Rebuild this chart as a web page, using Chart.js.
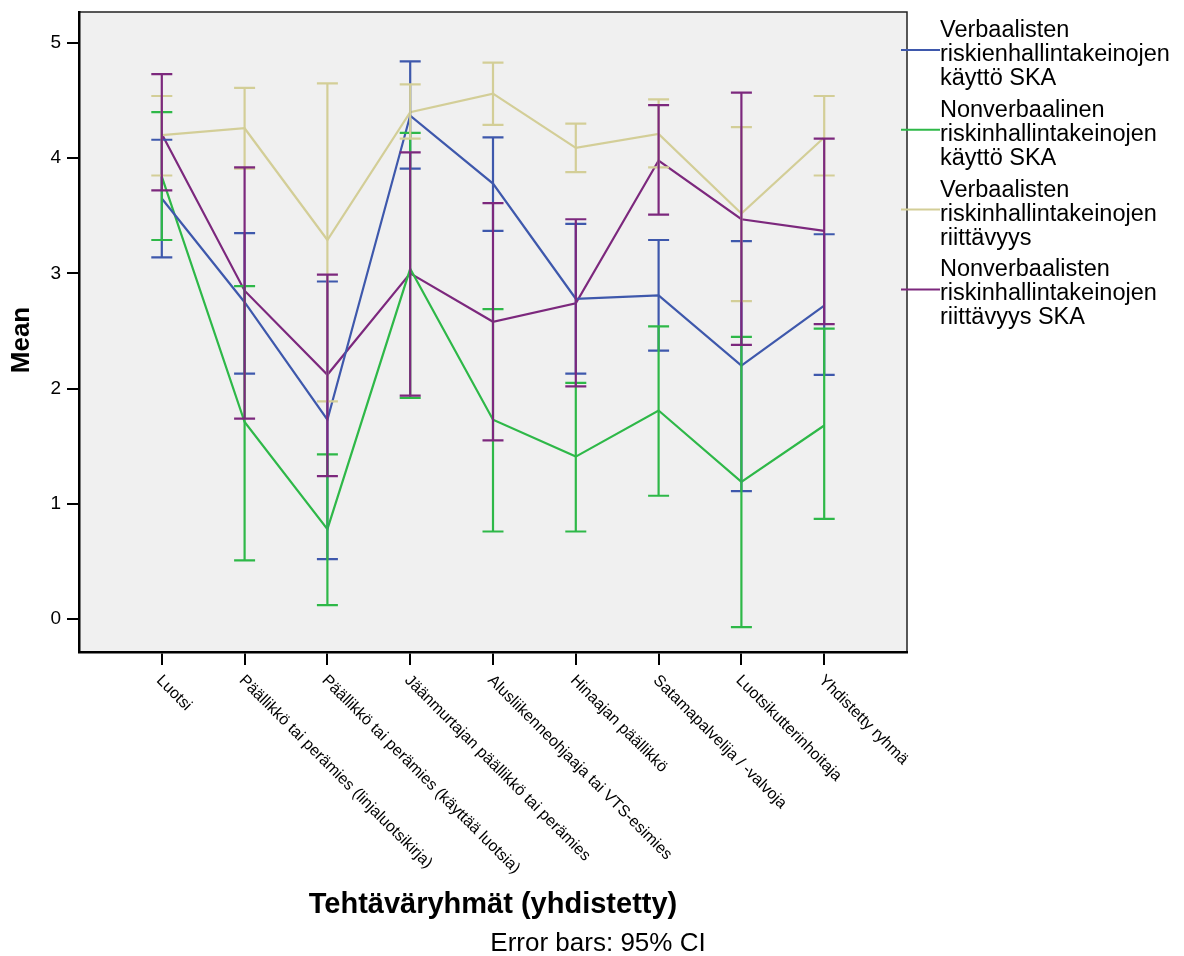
<!DOCTYPE html>
<html>
<head>
<meta charset="utf-8">
<script src="https://cdn.jsdelivr.net/npm/chart.js@4"></script>
<style>
  body { margin: 0; background: #fff; }
</style>
</head>
<body>
<canvas id="myChart" width="1184" height="956"></canvas>
<script>
// categories on the x axis
const categories = [
  'Luotsi',
  'Päällikkö tai perämies (linjaluotsikirja)',
  'Päällikkö tai perämies (käyttää luotsia)',
  'Jäänmurtajan päällikkö tai perämies',
  'Alusliikenneohjaaja tai VTS-esimies',
  'Hinaajan päällikkö',
  'Satamapalvelija / -valvoja',
  'Luotsikutterinhoitaja',
  'Yhdistetty ryhmä'
];
const yTicks = [0, 1, 2, 3, 4, 5];

// means and 95% CI per series
const verbKayttoMean  = [3.65, 2.75, 1.73, 4.37, 3.78, 2.78, 2.81, 2.20, 2.72];
const verbKayttoLow   = [3.14, 2.13, 0.52, 3.91, 3.37, 2.13, 2.33, 1.11, 2.12];
const verbKayttoHigh  = [4.16, 3.35, 2.93, 4.84, 4.18, 3.43, 3.29, 3.28, 3.34];

const nonvKayttoMean  = [3.84, 1.71, 0.78, 3.04, 1.73, 1.41, 1.81, 1.19, 1.68];
const nonvKayttoLow   = [3.29, 0.51, 0.12, 1.92, 0.76, 0.76, 1.07, -0.07, 0.87];
const nonvKayttoHigh  = [4.40, 2.89, 1.43, 4.22, 2.69, 2.05, 2.54, 2.45, 2.52];

const verbRiittMean   = [4.20, 4.26, 3.29, 4.40, 4.56, 4.09, 4.21, 3.52, 4.18];
const verbRiittLow    = [3.85, 3.91, 1.89, 4.17, 4.29, 3.88, 3.92, 2.76, 3.85];
const verbRiittHigh   = [4.54, 4.61, 4.65, 4.64, 4.83, 4.30, 4.51, 4.27, 4.54];

const nonvRiittMean   = [4.21, 2.85, 2.12, 3.00, 2.58, 2.74, 3.98, 3.47, 3.37];
const nonvRiittLow    = [3.72, 1.74, 1.24, 1.94, 1.55, 2.02, 3.51, 2.38, 2.56];
const nonvRiittHigh   = [4.73, 3.92, 2.99, 4.05, 3.61, 3.47, 4.46, 4.57, 4.17];

const seriesLabels = [
  ['Verbaalisten', 'riskienhallintakeinojen', 'käyttö SKA'],
  ['Nonverbaalinen', 'riskinhallintakeinojen', 'käyttö SKA'],
  ['Verbaalisten', 'riskinhallintakeinojen', 'riittävyys'],
  ['Nonverbaalisten', 'riskinhallintakeinojen', 'riittävyys SKA']
];
const colors = ['#3e58ac', '#2eb848', '#d3ce97', '#7c287d'];

const means = [verbKayttoMean, nonvKayttoMean, verbRiittMean, nonvRiittMean];
const lows = [verbKayttoLow, nonvKayttoLow, verbRiittLow, nonvRiittLow];
const highs = [verbKayttoHigh, nonvKayttoHigh, verbRiittHigh, nonvRiittHigh];

const FONT = '"Liberation Sans", Arial, sans-serif';

const datasets = means.map((m, s) => ({
  label: seriesLabels[s].join(' '),
  data: m.map((v, i) => ({ x: i + 1, y: v })),
  borderColor: colors[s],
  backgroundColor: colors[s],
  borderWidth: 2.2,
  pointRadius: 0,
  tension: 0
}));

// background + frame of plot area
const plotBg = {
  id: 'plotBg',
  beforeDraw(chart) {
    const { ctx, chartArea: a } = chart;
    ctx.save();
    ctx.fillStyle = '#f0f0f0';
    ctx.fillRect(a.left, a.top, a.right - a.left, a.bottom - a.top);
    ctx.strokeStyle = '#222';
    ctx.lineWidth = 1.5;
    ctx.strokeRect(a.left, a.top, a.right - a.left, a.bottom - a.top);
    ctx.restore();
  }
};

// error bars
const errorBars = {
  id: 'errorBars',
  afterDatasetsDraw(chart) {
    const { ctx } = chart;
    const xs = chart.scales.x, ys = chart.scales.y;
    ctx.save();
    ctx.lineWidth = 2.2;
    means.forEach((m, s) => {
      ctx.strokeStyle = colors[s];
      m.forEach((v, i) => {
        const x = xs.getPixelForValue(i + 1);
        const y1 = ys.getPixelForValue(lows[s][i]);
        const y2 = ys.getPixelForValue(highs[s][i]);
        ctx.beginPath();
        ctx.moveTo(x, y1); ctx.lineTo(x, y2);
        ctx.moveTo(x - 10.5, y1); ctx.lineTo(x + 10.5, y1);
        ctx.moveTo(x - 10.5, y2); ctx.lineTo(x + 10.5, y2);
        ctx.stroke();
      });
    });
    ctx.restore();
  }
};

// texts: rotated category labels, titles, legend
const texts = {
  id: 'texts',
  afterDraw(chart) {
    const { ctx, chartArea: a } = chart;
    const xs = chart.scales.x;
    ctx.save();
    ctx.fillStyle = '#000';

    ctx.font = '16px ' + FONT;
    ctx.textAlign = 'left';
    ctx.textBaseline = 'middle';
    categories.forEach((c, i) => {
      const x = xs.getPixelForValue(i + 1);
      ctx.save();
      ctx.translate(x - 3, 678);
      ctx.rotate(Math.PI / 4);
      ctx.fillText(c, 0, 0);
      ctx.restore();
    });

    ctx.font = 'bold 29px ' + FONT;
    ctx.textAlign = 'center';
    ctx.fillText('Tehtäväryhmät (yhdistetty)', (a.left + a.right) / 2, 905);

    ctx.font = '26px ' + FONT;
    ctx.fillText('Error bars: 95% CI', 598, 944);

    ctx.save();
    ctx.translate(22, 340);
    ctx.rotate(-Math.PI / 2);
    ctx.font = 'bold 26px ' + FONT;
    ctx.fillText('Mean', 0, 0);
    ctx.restore();

    // legend
    ctx.font = '23.5px ' + FONT;
    ctx.textAlign = 'left';
    ctx.textBaseline = 'alphabetic';
    seriesLabels.forEach((lines, s) => {
      const base = 50 + 79.8 * s;
      ctx.strokeStyle = colors[s];
      ctx.lineWidth = 2;
      ctx.beginPath();
      ctx.moveTo(901, base);
      ctx.lineTo(940, base);
      ctx.stroke();
      lines.forEach((t, k) => {
        ctx.fillText(t, 940, base - 13 + 24 * k);
      });
    });
    ctx.restore();
  }
};

const config = {
  type: 'line',
  data: { datasets: datasets },
  options: {
    responsive: false,
    animation: false,
    devicePixelRatio: 1,
    layout: { padding: { left: 0, top: 12, right: 277, bottom: 0 } },
    plugins: { legend: { display: false }, tooltip: { enabled: false } },
    scales: {
      x: {
        type: 'linear',
        min: 0,
        max: 10,
        afterBuildTicks(scale) {
          scale.ticks = categories.map((c, i) => ({ value: i + 1 }));
        },
        afterFit(scale) {
          scale.height = 304;
          scale.paddingLeft = 0; scale.paddingRight = 0;
        },
        ticks: { display: false },
        grid: { drawOnChartArea: false, drawTicks: true, tickLength: 13, color: '#000', lineWidth: 2 },
        border: { display: true, color: '#000', width: 2.5 }
      },
      y: {
        type: 'linear',
        min: -0.286,
        max: 5.269,
        afterBuildTicks(scale) {
          scale.ticks = yTicks.map(v => ({ value: v }));
        },
        afterFit(scale) {
          scale.width = 79;
          scale.paddingTop = 0; scale.paddingBottom = 0;
        },
        ticks: {
          color: '#000',
          padding: 6,
          font: { size: 19, family: FONT }
        },
        grid: { drawOnChartArea: false, drawTicks: true, tickLength: 12, color: '#000', lineWidth: 2 },
        border: { display: true, color: '#000', width: 2.5 }
      }
    }
  },
  plugins: [plotBg, errorBars, texts]
};

const myChart = new Chart(document.getElementById('myChart'), config);
</script>
</body>
</html>
